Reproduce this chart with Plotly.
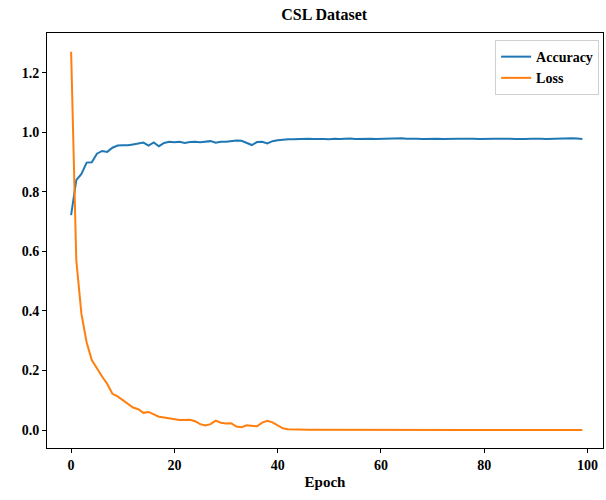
import plotly.graph_objects as go

epochs = list(range(100))

accuracy = [
    0.722, 0.839, 0.860, 0.898, 0.899, 0.928, 0.937, 0.934, 0.948, 0.955,
    0.956, 0.956, 0.959, 0.963, 0.965, 0.955, 0.966, 0.953, 0.964, 0.968,
    0.966, 0.968, 0.964, 0.967, 0.968, 0.966, 0.969, 0.970, 0.965, 0.968,
    0.968, 0.970, 0.972, 0.971, 0.963, 0.957, 0.967, 0.968, 0.962, 0.970,
    0.973, 0.975, 0.976, 0.976, 0.977, 0.976, 0.978, 0.977, 0.978, 0.977,
    0.976, 0.978, 0.977, 0.978, 0.979, 0.977, 0.978, 0.979, 0.978, 0.977,
    0.978, 0.979, 0.978, 0.979, 0.980, 0.978, 0.979, 0.978, 0.977, 0.978,
    0.979, 0.978, 0.977, 0.978, 0.979, 0.978, 0.978, 0.979, 0.978, 0.977,
    0.978, 0.979, 0.978, 0.978, 0.979, 0.978, 0.977, 0.976, 0.977, 0.978,
    0.979, 0.978, 0.977, 0.978, 0.979, 0.978, 0.979, 0.980, 0.979, 0.977,
]

loss = [
    1.270, 0.570, 0.390, 0.295, 0.235, 0.205, 0.180, 0.155, 0.122, 0.113,
    0.100, 0.088, 0.076, 0.070, 0.058, 0.061, 0.052, 0.045, 0.042, 0.039,
    0.037, 0.034, 0.034, 0.035, 0.030, 0.020, 0.016, 0.020, 0.032, 0.025,
    0.022, 0.023, 0.012, 0.010, 0.016, 0.014, 0.013, 0.025, 0.031, 0.026,
    0.015, 0.006, 0.003, 0.002, 0.0015, 0.0012, 0.0010, 0.0010, 0.0009, 0.0009,
    0.0008, 0.0008, 0.0008, 0.0007, 0.0007, 0.0007, 0.0007, 0.0006, 0.0006, 0.0006,
    0.0006, 0.0006, 0.0005, 0.0005, 0.0005, 0.0005, 0.0005, 0.0005, 0.0005, 0.0004,
    0.0004, 0.0004, 0.0004, 0.0004, 0.0004, 0.0004, 0.0004, 0.0004, 0.0004, 0.0004,
    0.0003, 0.0003, 0.0003, 0.0003, 0.0003, 0.0003, 0.0003, 0.0003, 0.0003, 0.0003,
    0.0003, 0.0003, 0.0003, 0.0003, 0.0003, 0.0003, 0.0003, 0.0003, 0.0003, 0.0003,
]

serif = "Liberation Serif"

fig = go.Figure()
fig.add_trace(go.Scatter(x=epochs, y=accuracy, name="Accuracy", mode="lines",
                         line=dict(color="#1f77b4", width=2)))
fig.add_trace(go.Scatter(x=epochs, y=loss, name="Loss", mode="lines",
                         line=dict(color="#ff7f0e", width=2)))

axis_style = dict(showgrid=False, zeroline=False, showline=True, mirror=True,
                  linecolor="black", linewidth=1, ticks="outside", ticklen=4,
                  tickcolor="black", automargin=False,
                  tickfont=dict(family=serif, size=14, color="black", weight="bold"))

fig.update_layout(
    width=606, height=500,
    margin=dict(l=47, r=3, t=33, b=52),
    plot_bgcolor="white", paper_bgcolor="white",
    title=dict(text="CSL Dataset", x=0.535, xanchor="center", y=0.972, yanchor="middle",
               font=dict(family=serif, size=16, color="black", weight="bold")),
    xaxis=dict(range=[-4.67, 103.0], tickvals=[0, 20, 40, 60, 80, 100],
               title=dict(text="Epoch", standoff=4,
                          font=dict(family=serif, size=15, color="black", weight="bold")),
               **axis_style),
    yaxis=dict(range=[-0.06, 1.333], tickvals=[0.0, 0.2, 0.4, 0.6, 0.8, 1.0, 1.2],
               tickformat=".1f", **axis_style),
    legend=dict(x=0.993, xanchor="right", y=0.983, yanchor="top",
                bgcolor="white", bordercolor="#d0d0d0", borderwidth=1,
                itemwidth=30, tracegroupgap=0,
                font=dict(family=serif, size=14, color="black", weight="bold")),
    showlegend=True,
)

fig.write_html("out.html", config={"displayModeBar": False},
               post_script="document.body.style.margin='0';")
